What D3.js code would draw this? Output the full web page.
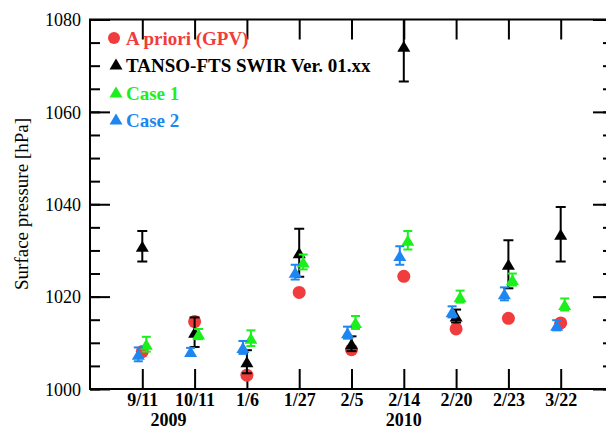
<!DOCTYPE html>
<html>
<head>
<meta charset="utf-8">
<script src="https://cdn.jsdelivr.net/npm/d3@7"></script>
<style>
  html, body { margin: 0; padding: 0; background: #fff; }
  svg { display: block; }
</style>
</head>
<body>
<svg id="chart" width="606" height="430"></svg>
<script>
// ---- data ----
const dates = ["9/11", "10/11", "1/6", "1/27", "2/5", "2/14", "2/20", "2/23", "3/22"];
const years = [{label: "2009", pos: 0.5}, {label: "2010", pos: 5}];
const apriori = [1008.1, 1014.6, 1003.0, 1020.9, 1008.5, 1024.4, 1013.0, 1015.3, 1014.3];
const tanso = [1030.9, 1012.3, 1005.9, 1029.5, 1009.8, 1074.2, 1015.8, 1027.0, 1033.5];
const tansoErr = [3.3, 3.2, 2.5, 5.2, 1.6, 7.6, 1.4, 5.2, 5.9];
const case1 = [1009.7, 1011.9, 1011.0, 1027.5, 1014.4, 1032.2, 1020.0, 1023.7, 1018.3];
const case1Err = [1.6, 1.1, 1.7, 1.6, 1.4, 2.0, 1.3, 1.3, 1.3];
const case2 = [1007.5, 1008.1, 1009.0, 1025.3, 1012.2, 1028.9, 1016.7, 1020.6, 1013.8];
const case2Err = [1.5, 0.8, 1.4, 1.6, 1.3, 2.0, 1.2, 1.4, 1.1];
const yMajorTicks = [1000, 1020, 1040, 1060, 1080];
const yMinorTicks = d3.range(1000, 1081, 5);
const legendLabels = ["A priori (GPV)", "TANSO-FTS SWIR Ver. 01.xx", "Case 1", "Case 2"];

// ---- layout ----
const RED = "#f03c3c", BLACK = "#000", GREEN = "#1cf01c", BLUE = "#1e86f0";
const pLeft = 90, pRight = 613, pTop = 19.5, pBottom = 389;
const svg = d3.select("#chart");
const FONT = "'Liberation Serif', 'Times New Roman', serif";

const x = d3.scaleLinear().domain([-1, 9]).range([pLeft, pRight]);
const y = d3.scaleLinear().domain([1000, 1080]).range([pBottom, pTop]);
const idx = d3.range(dates.length);

// clip
svg.append("defs").append("clipPath").attr("id", "plotclip")
  .append("rect").attr("x", pLeft).attr("y", pTop).attr("width", pRight - pLeft).attr("height", pBottom - pTop);

function styleAxis(g) {
  g.select(".domain").remove();
  g.selectAll(".tick line").attr("stroke", "#000").attr("stroke-width", 2);
}

// left axis minor + major
svg.append("g").attr("transform", `translate(${pLeft},0)`)
  .call(d3.axisLeft(y).tickValues(yMinorTicks).tickSize(-10).tickFormat(""))
  .call(styleAxis);
const gl = svg.append("g").attr("transform", `translate(${pLeft},0)`)
  .call(d3.axisLeft(y).tickValues(yMajorTicks).tickSize(-20).tickPadding(9).tickFormat(d3.format("d")))
  .call(styleAxis);
gl.selectAll("text").attr("font-family", FONT).attr("font-size", 18).attr("fill", "#000").attr("dy", "0.35em");

// right axis
svg.append("g").attr("transform", `translate(${pRight},0)`)
  .call(d3.axisRight(y).tickValues(yMinorTicks).tickSize(-10).tickFormat(""))
  .call(styleAxis);
svg.append("g").attr("transform", `translate(${pRight},0)`)
  .call(d3.axisRight(y).tickValues(yMajorTicks).tickSize(-20).tickFormat(""))
  .call(styleAxis);

// bottom axis
const gb = svg.append("g").attr("transform", `translate(0,${pBottom})`)
  .call(d3.axisBottom(x).tickValues(idx).tickSize(-20).tickPadding(4).tickFormat(i => dates[i]))
  .call(styleAxis);
gb.selectAll("text").attr("font-family", FONT).attr("font-size", 18).attr("font-weight", "bold").attr("fill", "#000");

// top axis
svg.append("g").attr("transform", `translate(0,${pTop})`)
  .call(d3.axisTop(x).tickValues(idx).tickSize(-20).tickFormat(""))
  .call(styleAxis);

// year labels
svg.append("g").selectAll("text").data(years).join("text")
  .attr("x", d => x(d.pos)).attr("y", 426)
  .attr("text-anchor", "middle")
  .attr("font-family", FONT).attr("font-size", 18).attr("font-weight", "bold")
  .text(d => d.label);

// frame
svg.append("rect").attr("x", pLeft).attr("y", pTop).attr("width", pRight - pLeft).attr("height", pBottom - pTop)
  .attr("fill", "none").attr("stroke", "#000").attr("stroke-width", 2);

// y label
svg.append("text")
  .attr("transform", `translate(28,204) rotate(-90)`)
  .attr("text-anchor", "middle")
  .attr("font-family", FONT).attr("font-size", 19)
  .text("Surface pressure [hPa]");

// ---- marks ----
const plot = svg.append("g").attr("clip-path", "url(#plotclip)");
const tri = "M0,-5.5L6.5,5.5L-6.5,5.5Z";

function errBars(vals, errs, dx, color, capW) {
  const g = plot.append("g").attr("stroke", color).attr("stroke-width", 2);
  idx.forEach(i => {
    const cx = x(i) + dx, y0 = y(vals[i] - errs[i]), y1 = y(vals[i] + errs[i]);
    g.append("line").attr("x1", cx).attr("x2", cx).attr("y1", y0).attr("y2", y1);
    g.append("line").attr("x1", cx - capW / 2).attr("x2", cx + capW / 2).attr("y1", y0).attr("y2", y0);
    g.append("line").attr("x1", cx - capW / 2).attr("x2", cx + capW / 2).attr("y1", y1).attr("y2", y1);
  });
}
function triangles(vals, dx, color) {
  plot.append("g").selectAll("path").data(idx).join("path")
    .attr("d", tri).attr("fill", color)
    .attr("transform", i => `translate(${x(i) + dx},${y(vals[i])})`);
}

// a priori circles
plot.append("g").selectAll("circle").data(idx).join("circle")
  .attr("cx", i => x(i)).attr("cy", i => y(apriori[i])).attr("r", 6.5).attr("fill", RED);

errBars(tanso, tansoErr, 0, BLACK, 10);
triangles(tanso, 0, BLACK);
errBars(case1, case1Err, 4, GREEN, 9);
triangles(case1, 4, GREEN);
errBars(case2, case2Err, -4, BLUE, 9);
triangles(case2, -4, BLUE);

// ---- legend ----
const legendColors = [RED, BLACK, GREEN, BLUE];
const legendY = [38, 65, 93, 120];
const lg = svg.append("g");
legendLabels.forEach((lab, k) => {
  if (k === 0) {
    lg.append("circle").attr("cx", 114).attr("cy", legendY[k]).attr("r", 6).attr("fill", legendColors[k]);
  } else {
    lg.append("path").attr("d", tri).attr("fill", legendColors[k])
      .attr("transform", `translate(116,${legendY[k] - 1})`);
  }
  lg.append("text").attr("x", 126).attr("y", legendY[k] + 7)
    .attr("font-family", FONT).attr("font-size", 19).attr("font-weight", "bold")
    .attr("fill", legendColors[k]).text(lab);
});
</script>
</body>
</html>
